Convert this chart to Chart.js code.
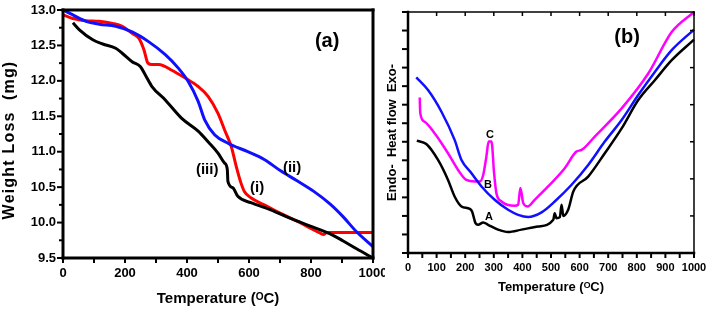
<!DOCTYPE html>
<html>
<head>
<meta charset="utf-8">
<script src="https://cdn.jsdelivr.net/npm/chart.js@4.4.1/dist/chart.umd.min.js"></script>
<style>
  html, body { margin:0; padding:0; background:#fff; width:708px; height:314px; overflow:hidden; }
  canvas { position:absolute; top:0; }
  #tga { left:0; }
  #dta { left:385px; }
</style>
</head>
<body>
<canvas id="tga" width="385" height="314"></canvas>
<canvas id="dta" width="323" height="314"></canvas>
<script>
// --- (a) TGA: weight (mg) vs temperature (°C)
const tgaT_i   = [0,32,74,117,160,191,223,245,261,274,287,309,351,394,436,468,500,521,543,559,574,585,606,649,702,755,798,830,840,851,947,1000];
const tgaW_i   = [12.93,12.88,12.85,12.84,12.81,12.77,12.67,12.60,12.44,12.25,12.23,12.23,12.15,12.04,11.92,11.78,11.54,11.31,11.07,10.79,10.56,10.44,10.35,10.25,10.13,10.02,9.92,9.85,9.83,9.86,9.86,9.86];
const tgaT_ii  = [0,32,74,117,170,223,277,330,372,404,436,457,489,532,596,649,702,755,809,862,904,947,1000];
const tgaW_ii  = [13.0,12.93,12.84,12.80,12.77,12.69,12.55,12.37,12.18,11.99,11.71,11.45,11.24,11.12,11.00,10.89,10.73,10.59,10.44,10.26,10.08,9.87,9.66];
const tgaT_iii = [32,53,96,128,170,191,223,250,266,287,330,383,436,468,500,521,530,532,548,564,606,670,734,798,862,904,947,1000];
const tgaW_iii = [12.82,12.72,12.58,12.52,12.46,12.39,12.27,12.20,12.08,11.92,11.73,11.47,11.29,11.14,10.98,10.84,10.75,10.58,10.49,10.37,10.28,10.18,10.06,9.95,9.84,9.74,9.63,9.50];

// --- (b) DTA: heat flow (arbitrary units) vs temperature (°C)
const dtaT_A = [31,64,105,140,163,187,216,224,236,245,263,280,315,350,397,455,508,513,519,531,537,543,560,578,630,688,747,805,863,922,1000];
const dtaA   = [6.06,5.88,5.02,3.94,3.05,2.51,2.38,2.24,1.61,1.52,1.65,1.52,1.26,1.13,1.26,1.43,1.79,2.15,1.88,1.94,2.60,2.00,2.33,3.32,4.12,5.38,6.72,8.25,9.32,10.40,11.51];
const dtaT_B = [29,70,117,163,187,222,257,303,350,385,420,467,513,572,630,688,747,805,863,922,1000];
const dtaB   = [9.47,8.79,7.62,6.10,5.02,4.30,3.59,2.87,2.33,2.06,1.94,2.19,2.78,3.68,4.75,6.01,7.17,8.52,9.77,10.94,12.05];
const dtaT_C = [41,43,58,93,140,175,204,233,251,263,274,282,292,301,309,327,373,385,393,403,418,443,490,548,589,607,653,747,840,922,1000];
const dtaC   = [8.39,7.53,7.08,6.46,5.38,4.48,3.94,3.86,3.86,4.21,5.20,6.01,6.01,4.30,3.23,2.78,2.55,2.60,3.50,2.69,2.51,2.87,3.59,4.57,5.47,5.56,6.28,7.80,9.68,11.92,13.00];

const FONT = "'Liberation Sans', Arial, sans-serif";
const f = (size) => ({ family: FONT, size, weight: 'bold' });

const line = (t, v, color, w) => ({
  data: t.map((x, i) => ({ x, y: v[i] })),
  borderColor: color, borderWidth: w, pointRadius: 0, fill: false,
  cubicInterpolationMode: 'monotone', clip: 3
});

// frame + tick marks, drawn through the chart's scales
const framePlugin = (cfg) => ({
  id: 'frame',
  afterDraw(chart) {
    const { ctx, chartArea: a, scales: { x, y } } = chart;
    ctx.save();
    ctx.strokeStyle = '#000';
    ctx.lineCap = 'square';
    const seg = (x1, y1, x2, y2, w) => { ctx.lineWidth = w; ctx.beginPath(); ctx.moveTo(x1, y1); ctx.lineTo(x2, y2); ctx.stroke(); };
    seg(a.left, a.top, a.left, a.bottom, cfg.axisW);
    seg(a.left, a.bottom, a.right, a.bottom, cfg.axisW);
    seg(a.left, a.top, a.right, a.top, cfg.boxW);
    seg(a.right, a.top, a.right, a.bottom, cfg.boxW);
    ctx.lineCap = 'butt';
    const on = (v, base, step) => Math.abs((v - base) / step - Math.round((v - base) / step)) < 1e-6;
    for (let v = y.min; v <= y.max + 1e-6; v += cfg.yStep) {
      const py = y.getPixelForValue(v);
      seg(a.left, py, a.left - (on(v, y.min, cfg.yMajor) ? 6 : 4), py, 2);
      if (cfg.rightStep && on(v, y.min, cfg.rightStep)) seg(a.right, py, a.right - 4, py, 1.5);
    }
    for (let v = x.min; v <= x.max + 1e-6; v += cfg.xStep) {
      const px = x.getPixelForValue(v);
      seg(px, a.bottom, px, a.bottom + 5, 2);
      if (cfg.topStep && on(v, x.min, cfg.topStep)) seg(px, a.top, px, a.top + 4, 1.5);
    }
    ctx.fillStyle = '#000';
    ctx.textAlign = 'center';
    ctx.textBaseline = 'middle';
    cfg.notes.forEach(n => {
      ctx.font = `bold ${n.size}px ${FONT}`;
      ctx.fillText(n.text, x.getPixelForValue(n.x), y.getPixelForValue(n.y));
    });
    if (cfg.yTitle) {
      const t = cfg.yTitle;
      ctx.save();
      ctx.translate(t.x, (a.top + a.bottom) / 2 + t.dy);
      ctx.rotate(-Math.PI / 2);
      ctx.font = `bold ${t.size}px ${FONT}`;
      if ('letterSpacing' in ctx) ctx.letterSpacing = t.spacing + 'px';
      ctx.fillText(t.text, 0, 0);
      ctx.restore();
    }
    ctx.restore();
  }
});

const noPad = (s) => { s.paddingLeft = 0; s.paddingRight = 0; s.paddingTop = 0; s.paddingBottom = 0; };

new Chart(document.getElementById('tga'), {
  type: 'line',
  data: { datasets: [
    line(tgaT_iii, tgaW_iii, '#000000', 3),
    line(tgaT_ii,  tgaW_ii,  '#1010ff', 3),
    line(tgaT_i,   tgaW_i,   '#ff0000', 3)
  ]},
  options: {
    responsive: false, animation: false,
    layout: { padding: { top: 10, right: 12, left: 0, bottom: 0 } },
    plugins: { legend: { display: false }, tooltip: { enabled: false } },
    scales: {
      x: { type: 'linear', min: 0, max: 1000,
        grid: { display: false, drawTicks: false }, border: { display: false },
        ticks: { stepSize: 200, padding: 8, color: '#000', font: f(13), maxRotation: 0, autoSkip: false, callback: v => String(v) },
        title: { display: true, text: 'Temperature (ᴼC)', color: '#000', font: f(15), padding: { top: 0, bottom: 6 } },
        afterFit: s => { noPad(s); s.height = 56; } },
      y: { type: 'linear', min: 9.5, max: 13,
        grid: { display: false, drawTicks: false }, border: { display: false },
        ticks: { stepSize: 0.5, padding: 7, color: '#000', font: f(13), callback: v => v.toFixed(1) },
        afterFit: s => { noPad(s); s.width = 63; } }
    }
  },
  plugins: [framePlugin({ axisW: 3, boxW: 3, yStep: 0.25, yMajor: 0.5, xStep: 100,
    yTitle: { text: 'Weight Loss  (mg)', x: 10, dy: 6, size: 16, spacing: 1.2 },
    notes: [
      { text: '(a)', x: 852, y: 12.55, size: 20 },
      { text: '(iii)', x: 465, y: 10.74, size: 15 },
      { text: '(ii)', x: 739, y: 10.77, size: 15 },
      { text: '(i)', x: 626, y: 10.49, size: 15 }
    ] })]
});

new Chart(document.getElementById('dta'), {
  type: 'line',
  data: { datasets: [
    line(dtaT_A, dtaA, '#000000', 2.5),
    line(dtaT_B, dtaB, '#1010ff', 2.5),
    line(dtaT_C, dtaC, '#ff00ff', 2.5)
  ]},
  options: {
    responsive: false, animation: false,
    layout: { padding: { top: 12, right: 14, left: 0, bottom: 0 } },
    plugins: { legend: { display: false }, tooltip: { enabled: false } },
    scales: {
      x: { type: 'linear', min: 0, max: 1000,
        grid: { display: false, drawTicks: false }, border: { display: false },
        ticks: { stepSize: 100, padding: 8, color: '#000', font: f(11), maxRotation: 0, autoSkip: false, callback: v => String(v) },
        title: { display: true, text: 'Temperature (ᴼC)', color: '#000', font: f(13), padding: { top: 0, bottom: 19 } },
        afterFit: s => { noPad(s); s.height = 61; } },
      y: { type: 'linear', min: 0, max: 13,
        grid: { display: false, drawTicks: false }, border: { display: false },
        ticks: { display: false, stepSize: 1 },
        title: { display: true, text: 'Endo-  Heat flow  Exo-', color: '#000', font: f(13), padding: { top: 0, bottom: 0 } },
        afterFit: s => { noPad(s); s.width = 23; } }
    }
  },
  plugins: [framePlugin({ axisW: 2.5, boxW: 1.5, yStep: 1, yMajor: 1, xStep: 50, topStep: 100, rightStep: 2,
    notes: [
      { text: '(b)', x: 766, y: 11.6, size: 20 },
      { text: 'C', x: 287, y: 6.37, size: 11 },
      { text: 'B', x: 280, y: 3.67, size: 11 },
      { text: 'A', x: 283, y: 1.94, size: 11 }
    ] })]
});
</script>
</body>
</html>
